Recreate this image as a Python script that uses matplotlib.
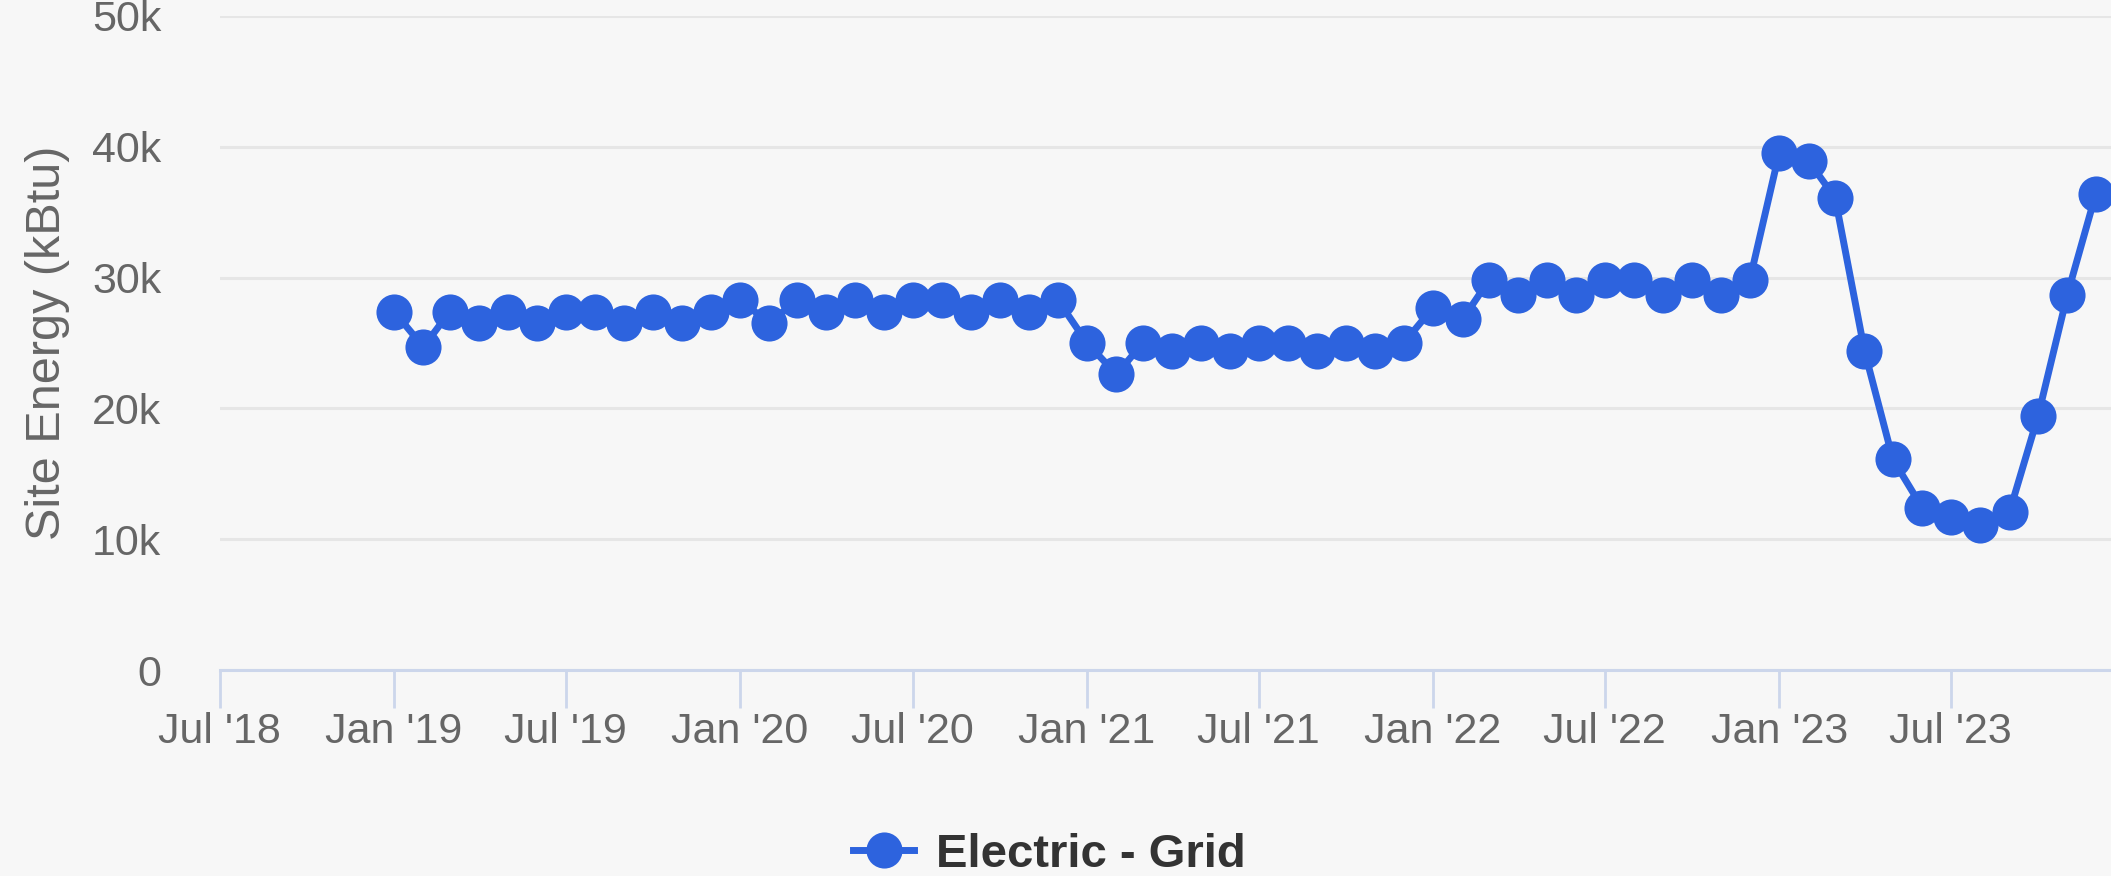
import matplotlib
matplotlib.use("Agg")
import matplotlib.pyplot as plt
import matplotlib.dates as mdates
import numpy as np
import datetime as dt

months = [dt.date(2019 + i // 12, i % 12 + 1, 1) for i in range(60)]
energy_kbtu = [
    27400, 24700, 27400, 26500, 27400, 26500, 27400, 27400, 26500, 27400, 26500, 27400,
    28300, 26500, 28300, 27400, 28300, 27400, 28300, 28300, 27400, 28300, 27400, 28300,
    25000, 22600, 25000, 24400, 25000, 24400, 25000, 25000, 24400, 25000, 24400, 25000,
    27700, 26800, 29800, 28700, 29800, 28700, 29800, 29800, 28700, 29800, 28700, 29800,
    39500, 38900, 36100, 24400, 16100, 12400, 11700, 11100, 12100, 19400, 28700, 36400,
]
series_name = "Electric - Grid"
y_ticks = [0, 10000, 20000, 30000, 40000, 50000]
y_tick_labels = ["0", "10k", "20k", "30k", "40k", "50k"]
x_tick_dates = [dt.date(2018 + (i * 6 + 6) // 12, (i * 6 + 6) % 12 + 1, 1) for i in range(11)]

BG = "#F7F7F7"
BLUE = "#2D63DE"
plt.rcParams['font.family'] = ['Liberation Sans', 'DejaVu Sans']

fig = plt.figure(figsize=(21.11, 8.76), dpi=100, facecolor=BG)
ax = fig.add_axes([0.104, 0.235, 0.896, 0.747])
ax.set_facecolor(BG)

ax.plot(months, energy_kbtu, color=BLUE, lw=5, marker='o', ms=26,
        markeredgewidth=0, label=series_name, clip_on=False, zorder=3)

ax.set_ylim(0, 50000)
ax.set_xlim(dt.date(2018, 7, 1), dt.date(2023, 12, 17))
ax.set_yticks(y_ticks)
ax.set_yticklabels(y_tick_labels)
ax.set_xticks(x_tick_dates)
ax.xaxis.set_major_formatter(mdates.DateFormatter("%b '%y"))

ax.grid(axis='y', color='#E6E6E6', lw=2.2, zorder=0)
ax.set_axisbelow(True)
for s in ['top', 'right', 'left']:
    ax.spines[s].set_visible(False)
ax.spines['bottom'].set_color('#CCD6EB')
ax.spines['bottom'].set_linewidth(2.2)
ax.spines['bottom'].set_zorder(1)

ax.tick_params(axis='y', length=0, pad=42, labelsize=31, labelcolor='#666666')
ax.tick_params(axis='x', length=27, width=2, color='#CCD6EB', pad=3,
               labelsize=31, labelcolor='#666666')

ax.set_ylabel("Site Energy (kBtu)", fontsize=35, color='#666666', labelpad=16)

leg = fig.legend(loc='center', bbox_to_anchor=(0.497, 0.024), frameon=False,
                 handlelength=1.3, handletextpad=0.45,
                 prop={'size': 34, 'weight': 'bold'})
for t in leg.get_texts():
    t.set_color('#333333')

fig.savefig("out.png", dpi=100, facecolor=BG)
